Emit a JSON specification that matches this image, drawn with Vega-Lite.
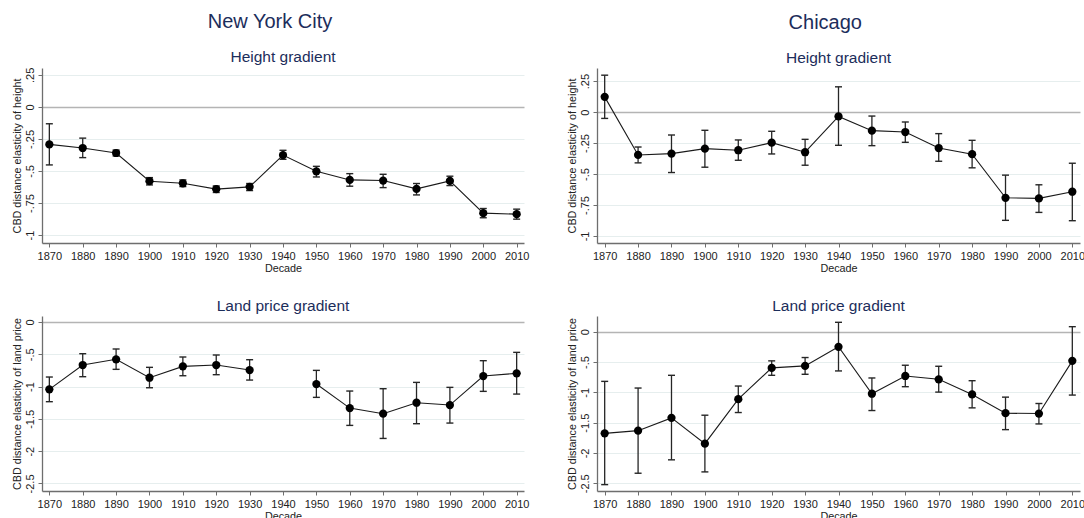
{
  "$schema": "https://vega.github.io/schema/vega-lite/v6.json",
  "background": "white",
  "padding": {"left": 11, "top": 11, "right": 0, "bottom": 0},
  "config": {
    "font": "Liberation Sans",
    "view": {"stroke": null},
    "axis": {
      "domainColor": "#6e6e6e",
      "domainWidth": 1.3,
      "tickColor": "#6e6e6e",
      "tickSize": 4,
      "tickWidth": 1,
      "labelFont": "Liberation Sans",
      "labelFontSize": 11,
      "labelColor": "#222222",
      "labelOverlap": false,
      "titleFont": "Liberation Sans",
      "titleFontSize": 10.8,
      "titleFontWeight": "normal",
      "titleColor": "#222222"
    },
    "axisQuantitative": {"labelOverlap": false},
    "axisX": {"grid": false, "labelPadding": 3, "titlePadding": 1, "labelFlush": false, "labelOverlap": false},
    "axisY": {
      "grid": true,
      "gridColor": {"condition": {"test": "datum.value === 0", "value": "#b4b4b4"}, "value": "#e6eeee"},
      "gridWidth": {"condition": {"test": "datum.value === 0", "value": 1.6}, "value": 1},
      "labelAngle": -90, "labelAlign": "center", "labelBaseline": "bottom", "labelPadding": 3, "titlePadding": 2, "labelOverlap": false
    },
    "title": {"font": "Liberation Sans", "fontWeight": "normal", "color": "#1c2d5b"}
  },
  "datasets": {
    "nyc_height": [
      {"decade": 1870, "est": -0.293, "lo": -0.453, "hi": -0.132},
      {"decade": 1880, "est": -0.321, "lo": -0.396, "hi": -0.244},
      {"decade": 1890, "est": -0.360, "lo": -0.383, "hi": -0.337},
      {"decade": 1900, "est": -0.580, "lo": -0.609, "hi": -0.552},
      {"decade": 1910, "est": -0.596, "lo": -0.622, "hi": -0.570},
      {"decade": 1920, "est": -0.642, "lo": -0.668, "hi": -0.617},
      {"decade": 1930, "est": -0.624, "lo": -0.653, "hi": -0.598},
      {"decade": 1940, "est": -0.376, "lo": -0.409, "hi": -0.339},
      {"decade": 1950, "est": -0.503, "lo": -0.547, "hi": -0.464},
      {"decade": 1960, "est": -0.570, "lo": -0.619, "hi": -0.521},
      {"decade": 1970, "est": -0.575, "lo": -0.630, "hi": -0.526},
      {"decade": 1980, "est": -0.640, "lo": -0.687, "hi": -0.598},
      {"decade": 1990, "est": -0.578, "lo": -0.614, "hi": -0.541},
      {"decade": 2000, "est": -0.829, "lo": -0.865, "hi": -0.793},
      {"decade": 2010, "est": -0.837, "lo": -0.876, "hi": -0.798}
    ],
    "chi_height": [
      {"decade": 1870, "est": 0.123, "lo": -0.051, "hi": 0.298},
      {"decade": 1880, "est": -0.346, "lo": -0.410, "hi": -0.282},
      {"decade": 1890, "est": -0.335, "lo": -0.488, "hi": -0.185},
      {"decade": 1900, "est": -0.295, "lo": -0.445, "hi": -0.147},
      {"decade": 1910, "est": -0.308, "lo": -0.389, "hi": -0.225},
      {"decade": 1920, "est": -0.247, "lo": -0.338, "hi": -0.155},
      {"decade": 1930, "est": -0.324, "lo": -0.429, "hi": -0.220},
      {"decade": 1940, "est": -0.035, "lo": -0.268, "hi": 0.204},
      {"decade": 1950, "est": -0.150, "lo": -0.271, "hi": -0.032},
      {"decade": 1960, "est": -0.161, "lo": -0.244, "hi": -0.080},
      {"decade": 1970, "est": -0.290, "lo": -0.397, "hi": -0.174},
      {"decade": 1980, "est": -0.340, "lo": -0.450, "hi": -0.228},
      {"decade": 1990, "est": -0.692, "lo": -0.874, "hi": -0.509},
      {"decade": 2000, "est": -0.697, "lo": -0.810, "hi": -0.587},
      {"decade": 2010, "est": -0.643, "lo": -0.877, "hi": -0.413}
    ],
    "nyc_land": [
      {"decade": 1870, "est": -1.043, "lo": -1.234, "hi": -0.852},
      {"decade": 1880, "est": -0.666, "lo": -0.847, "hi": -0.491},
      {"decade": 1890, "est": -0.578, "lo": -0.733, "hi": -0.418},
      {"decade": 1900, "est": -0.863, "lo": -1.018, "hi": -0.702},
      {"decade": 1910, "est": -0.687, "lo": -0.832, "hi": -0.542},
      {"decade": 1920, "est": -0.666, "lo": -0.816, "hi": -0.511},
      {"decade": 1930, "est": -0.744, "lo": -0.899, "hi": -0.584},
      {"decade": 1940, "est": null, "lo": null, "hi": null},
      {"decade": 1950, "est": -0.961, "lo": -1.167, "hi": -0.749},
      {"decade": 1960, "est": -1.333, "lo": -1.601, "hi": -1.069},
      {"decade": 1970, "est": -1.420, "lo": -1.803, "hi": -1.033},
      {"decade": 1980, "est": -1.250, "lo": -1.575, "hi": -0.935},
      {"decade": 1990, "est": -1.286, "lo": -1.565, "hi": -1.012},
      {"decade": 2000, "est": -0.837, "lo": -1.074, "hi": -0.599},
      {"decade": 2010, "est": -0.795, "lo": -1.116, "hi": -0.470}
    ],
    "chi_land": [
      {"decade": 1870, "est": -1.676, "lo": -2.522, "hi": -0.819},
      {"decade": 1880, "est": -1.632, "lo": -2.334, "hi": -0.929},
      {"decade": 1890, "est": -1.421, "lo": -2.113, "hi": -0.719},
      {"decade": 1900, "est": -1.847, "lo": -2.312, "hi": -1.377},
      {"decade": 1910, "est": -1.112, "lo": -1.333, "hi": -0.896},
      {"decade": 1920, "est": -0.597, "lo": -0.719, "hi": -0.481},
      {"decade": 1930, "est": -0.564, "lo": -0.702, "hi": -0.426},
      {"decade": 1940, "est": -0.249, "lo": -0.647, "hi": 0.155},
      {"decade": 1950, "est": -1.023, "lo": -1.300, "hi": -0.763},
      {"decade": 1960, "est": -0.730, "lo": -0.907, "hi": -0.553},
      {"decade": 1970, "est": -0.785, "lo": -0.996, "hi": -0.570},
      {"decade": 1980, "est": -1.034, "lo": -1.256, "hi": -0.808},
      {"decade": 1990, "est": -1.344, "lo": -1.615, "hi": -1.079},
      {"decade": 2000, "est": -1.350, "lo": -1.521, "hi": -1.184},
      {"decade": 2010, "est": -0.481, "lo": -1.045, "hi": 0.083}
    ]
  },
  "spacing": 37,
  "hconcat": [
    {
      "title": {"text": "New York City", "fontSize": 20, "offset": 18, "anchor": "middle"},
      "spacing": 25,
      "vconcat": [
        {
          "width": 482, "height": 175,
          "title": {"text": "Height gradient", "fontSize": 15.5, "offset": 2},
          "data": {"name": "nyc_height"},
          "encoding": {
            "x": {"field": "decade", "type": "quantitative", "title": "Decade", "scale": {"domain": [1867.8, 2012.2], "nice": false, "zero": false}, "axis": {"labelOverlap": false, "values": [1870, 1880, 1890, 1900, 1910, 1920, 1930, 1940, 1950, 1960, 1970, 1980, 1990, 2000, 2010], "format": "d"}}
          },
          "layer": [
            {"mark": {"type": "rule", "color": "#262626", "strokeWidth": 1.3}, "encoding": {"y": {"field": "lo", "type": "quantitative", "title": "CBD distance elasticity of height", "scale": {"domain": [-1.062, 0.303], "nice": false, "zero": false}, "axis": {"labelOverlap": false, "values": [-1, -0.75, -0.5, -0.25, 0, 0.25], "labelExpr": "replace(toString(datum.value), '0.', '.')"}}, "y2": {"field": "hi"}}},
            {"mark": {"type": "tick", "orient": "horizontal", "size": 7, "thickness": 1.4, "color": "#262626", "opacity": 1}, "encoding": {"y": {"field": "lo", "type": "quantitative", "title": "CBD distance elasticity of height", "axis": {"labelOverlap": false, "values": [-1, -0.75, -0.5, -0.25, 0, 0.25], "labelExpr": "replace(toString(datum.value), '0.', '.')"}}}},
            {"mark": {"type": "tick", "orient": "horizontal", "size": 7, "thickness": 1.4, "color": "#262626", "opacity": 1}, "encoding": {"y": {"field": "hi", "type": "quantitative", "title": "CBD distance elasticity of height", "axis": {"labelOverlap": false, "values": [-1, -0.75, -0.5, -0.25, 0, 0.25], "labelExpr": "replace(toString(datum.value), '0.', '.')"}}}},
            {"mark": {"type": "line", "color": "#1a1a1a", "strokeWidth": 1.1}, "encoding": {"y": {"field": "est", "type": "quantitative", "title": "CBD distance elasticity of height", "axis": {"labelOverlap": false, "values": [-1, -0.75, -0.5, -0.25, 0, 0.25], "labelExpr": "replace(toString(datum.value), '0.', '.')"}}}},
            {"mark": {"type": "point", "filled": true, "color": "#000000", "size": 68, "opacity": 1}, "encoding": {"y": {"field": "est", "type": "quantitative", "title": "CBD distance elasticity of height", "axis": {"labelOverlap": false, "values": [-1, -0.75, -0.5, -0.25, 0, 0.25], "labelExpr": "replace(toString(datum.value), '0.', '.')"}}}}
          ]
        },
        {
          "width": 482, "height": 175,
          "title": {"text": "Land price gradient", "fontSize": 15.5, "offset": 2},
          "data": {"name": "nyc_land"},
          "encoding": {
            "x": {"field": "decade", "type": "quantitative", "title": "Decade", "scale": {"domain": [1867.8, 2012.2], "nice": false, "zero": false}, "axis": {"labelOverlap": false, "values": [1870, 1880, 1890, 1900, 1910, 1920, 1930, 1940, 1950, 1960, 1970, 1980, 1990, 2000, 2010], "format": "d"}}
          },
          "layer": [
            {"mark": {"type": "rule", "color": "#262626", "strokeWidth": 1.3}, "encoding": {"y": {"field": "lo", "type": "quantitative", "title": "CBD distance elasticity of land price", "scale": {"domain": [-2.617, 0.093], "nice": false, "zero": false}, "axis": {"labelOverlap": false, "values": [-2.5, -2, -1.5, -1, -0.5, 0], "labelExpr": "replace(toString(datum.value), '0.', '.')"}}, "y2": {"field": "hi"}}},
            {"mark": {"type": "tick", "orient": "horizontal", "size": 7, "thickness": 1.4, "color": "#262626", "opacity": 1}, "encoding": {"y": {"field": "lo", "type": "quantitative", "title": "CBD distance elasticity of land price", "axis": {"labelOverlap": false, "values": [-2.5, -2, -1.5, -1, -0.5, 0], "labelExpr": "replace(toString(datum.value), '0.', '.')"}}}},
            {"mark": {"type": "tick", "orient": "horizontal", "size": 7, "thickness": 1.4, "color": "#262626", "opacity": 1}, "encoding": {"y": {"field": "hi", "type": "quantitative", "title": "CBD distance elasticity of land price", "axis": {"labelOverlap": false, "values": [-2.5, -2, -1.5, -1, -0.5, 0], "labelExpr": "replace(toString(datum.value), '0.', '.')"}}}},
            {"mark": {"type": "line", "color": "#1a1a1a", "strokeWidth": 1.1, "invalid": "break-paths-show-domains"}, "encoding": {"y": {"field": "est", "type": "quantitative", "title": "CBD distance elasticity of land price", "axis": {"labelOverlap": false, "values": [-2.5, -2, -1.5, -1, -0.5, 0], "labelExpr": "replace(toString(datum.value), '0.', '.')"}}}},
            {"mark": {"type": "point", "filled": true, "color": "#000000", "size": 68, "opacity": 1}, "encoding": {"y": {"field": "est", "type": "quantitative", "title": "CBD distance elasticity of land price", "axis": {"labelOverlap": false, "values": [-2.5, -2, -1.5, -1, -0.5, 0], "labelExpr": "replace(toString(datum.value), '0.', '.')"}}}}
          ]
        }
      ]
    },
    {
      "title": {"text": "Chicago", "fontSize": 20, "offset": 18, "anchor": "middle"},
      "spacing": 25,
      "vconcat": [
        {
          "width": 483, "height": 175,
          "title": {"text": "Height gradient", "fontSize": 15.5, "offset": 2},
          "data": {"name": "chi_height"},
          "encoding": {
            "x": {"field": "decade", "type": "quantitative", "title": "Decade", "scale": {"domain": [1867.7, 2012.3], "nice": false, "zero": false}, "axis": {"labelOverlap": false, "values": [1870, 1880, 1890, 1900, 1910, 1920, 1930, 1940, 1950, 1960, 1970, 1980, 1990, 2000, 2010], "format": "d"}}
          },
          "layer": [
            {"mark": {"type": "rule", "color": "#262626", "strokeWidth": 1.3}, "encoding": {"y": {"field": "lo", "type": "quantitative", "title": "CBD distance elasticity of height", "scale": {"domain": [-1.057, 0.356], "nice": false, "zero": false}, "axis": {"labelOverlap": false, "values": [-1, -0.75, -0.5, -0.25, 0, 0.25], "labelExpr": "replace(toString(datum.value), '0.', '.')"}}, "y2": {"field": "hi"}}},
            {"mark": {"type": "tick", "orient": "horizontal", "size": 7, "thickness": 1.4, "color": "#262626", "opacity": 1}, "encoding": {"y": {"field": "lo", "type": "quantitative", "title": "CBD distance elasticity of height", "axis": {"labelOverlap": false, "values": [-1, -0.75, -0.5, -0.25, 0, 0.25], "labelExpr": "replace(toString(datum.value), '0.', '.')"}}}},
            {"mark": {"type": "tick", "orient": "horizontal", "size": 7, "thickness": 1.4, "color": "#262626", "opacity": 1}, "encoding": {"y": {"field": "hi", "type": "quantitative", "title": "CBD distance elasticity of height", "axis": {"labelOverlap": false, "values": [-1, -0.75, -0.5, -0.25, 0, 0.25], "labelExpr": "replace(toString(datum.value), '0.', '.')"}}}},
            {"mark": {"type": "line", "color": "#1a1a1a", "strokeWidth": 1.1}, "encoding": {"y": {"field": "est", "type": "quantitative", "title": "CBD distance elasticity of height", "axis": {"labelOverlap": false, "values": [-1, -0.75, -0.5, -0.25, 0, 0.25], "labelExpr": "replace(toString(datum.value), '0.', '.')"}}}},
            {"mark": {"type": "point", "filled": true, "color": "#000000", "size": 68, "opacity": 1}, "encoding": {"y": {"field": "est", "type": "quantitative", "title": "CBD distance elasticity of height", "axis": {"labelOverlap": false, "values": [-1, -0.75, -0.5, -0.25, 0, 0.25], "labelExpr": "replace(toString(datum.value), '0.', '.')"}}}}
          ]
        },
        {
          "width": 483, "height": 175,
          "title": {"text": "Land price gradient", "fontSize": 15.5, "offset": 2},
          "data": {"name": "chi_land"},
          "encoding": {
            "x": {"field": "decade", "type": "quantitative", "title": "Decade", "scale": {"domain": [1867.7, 2012.3], "nice": false, "zero": false}, "axis": {"labelOverlap": false, "values": [1870, 1880, 1890, 1900, 1910, 1920, 1930, 1940, 1950, 1960, 1970, 1980, 1990, 2000, 2010], "format": "d"}}
          },
          "layer": [
            {"mark": {"type": "rule", "color": "#262626", "strokeWidth": 1.3}, "encoding": {"y": {"field": "lo", "type": "quantitative", "title": "CBD distance elasticity of land price", "scale": {"domain": [-2.627, 0.259], "nice": false, "zero": false}, "axis": {"labelOverlap": false, "values": [-2.5, -2, -1.5, -1, -0.5, 0], "labelExpr": "replace(toString(datum.value), '0.', '.')"}}, "y2": {"field": "hi"}}},
            {"mark": {"type": "tick", "orient": "horizontal", "size": 7, "thickness": 1.4, "color": "#262626", "opacity": 1}, "encoding": {"y": {"field": "lo", "type": "quantitative", "title": "CBD distance elasticity of land price", "axis": {"labelOverlap": false, "values": [-2.5, -2, -1.5, -1, -0.5, 0], "labelExpr": "replace(toString(datum.value), '0.', '.')"}}}},
            {"mark": {"type": "tick", "orient": "horizontal", "size": 7, "thickness": 1.4, "color": "#262626", "opacity": 1}, "encoding": {"y": {"field": "hi", "type": "quantitative", "title": "CBD distance elasticity of land price", "axis": {"labelOverlap": false, "values": [-2.5, -2, -1.5, -1, -0.5, 0], "labelExpr": "replace(toString(datum.value), '0.', '.')"}}}},
            {"mark": {"type": "line", "color": "#1a1a1a", "strokeWidth": 1.1}, "encoding": {"y": {"field": "est", "type": "quantitative", "title": "CBD distance elasticity of land price", "axis": {"labelOverlap": false, "values": [-2.5, -2, -1.5, -1, -0.5, 0], "labelExpr": "replace(toString(datum.value), '0.', '.')"}}}},
            {"mark": {"type": "point", "filled": true, "color": "#000000", "size": 68, "opacity": 1}, "encoding": {"y": {"field": "est", "type": "quantitative", "title": "CBD distance elasticity of land price", "axis": {"labelOverlap": false, "values": [-2.5, -2, -1.5, -1, -0.5, 0], "labelExpr": "replace(toString(datum.value), '0.', '.')"}}}}
          ]
        }
      ]
    }
  ]
}
